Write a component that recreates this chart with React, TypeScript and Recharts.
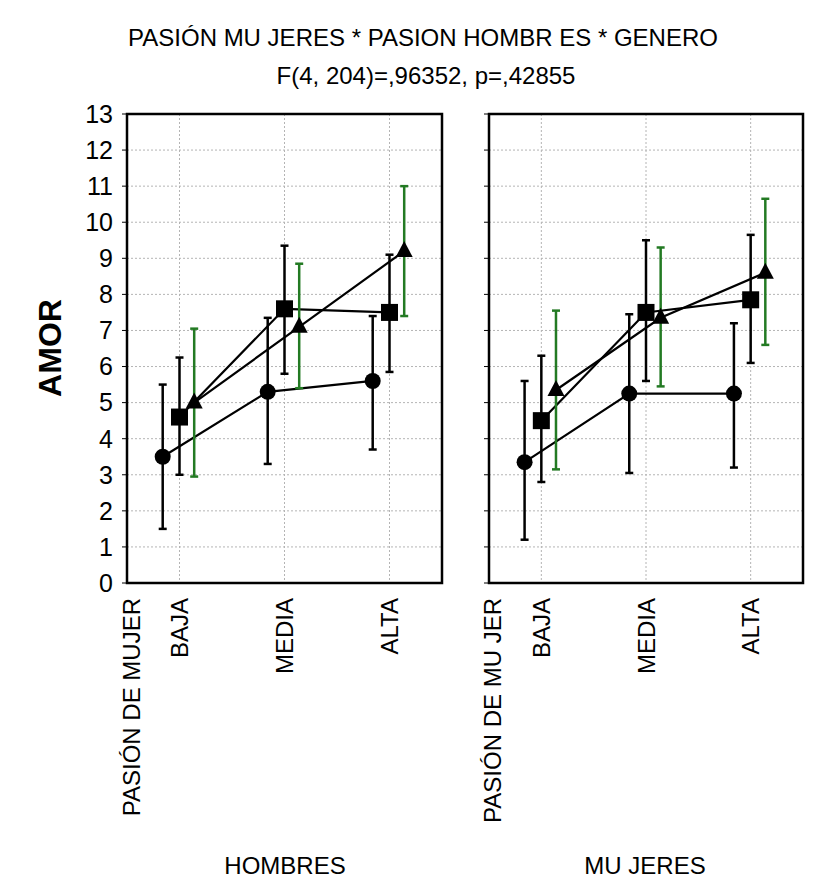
import React from 'react';
import { LineChart, Line, XAxis, YAxis, CartesianGrid, ErrorBar, ReferenceArea } from 'recharts';

const categories = ['BAJA', 'MEDIA', 'ALTA'];
const yTicks = [0, 1, 2, 3, 4, 5, 6, 7, 8, 9, 10, 11, 12, 13];

// HOMBRES panel
const hombresCircle = [3.5, 5.3, 5.6];
const hombresCircleLow = [1.5, 3.3, 3.7];
const hombresCircleHigh = [5.5, 7.35, 7.4];
const hombresSquare = [4.6, 7.6, 7.5];
const hombresSquareLow = [3.0, 5.8, 5.85];
const hombresSquareHigh = [6.25, 9.35, 9.1];
const hombresTriangle = [5.0, 7.1, 9.2];
const hombresTriangleLow = [2.95, 5.4, 7.4];
const hombresTriangleHigh = [7.05, 8.85, 11.0];

// MUJERES panel
const mujeresCircle = [3.35, 5.25, 5.25];
const mujeresCircleLow = [1.2, 3.05, 3.2];
const mujeresCircleHigh = [5.6, 7.45, 7.2];
const mujeresSquare = [4.5, 7.5, 7.85];
const mujeresSquareLow = [2.8, 5.6, 6.1];
const mujeresSquareHigh = [6.3, 9.5, 9.65];
const mujeresTriangle = [5.35, 7.35, 8.6];
const mujeresTriangleLow = [3.15, 5.45, 6.6];
const mujeresTriangleHigh = [7.55, 9.3, 10.65];

const FONT = '"Liberation Sans", Arial, sans-serif';
const GREEN = '#237a23';

// horizontal dodge of each series inside a category
const shift = { circle: -0.16, square: 0, triangle: 0.14 };

const build = (mean: number[], low: number[], high: number[], dx: number) =>
  categories.map((c, i) => ({
    name: c,
    x: i + 0.5 + dx,
    y: mean[i],
    err: [mean[i] - low[i], high[i] - mean[i]],
  }));

const CircleDot = (p: any) => <circle cx={p.cx} cy={p.cy} r={8} fill="#000" />;
const SquareDot = (p: any) => (
  <rect x={p.cx - 8.5} y={p.cy - 8.5} width={17} height={17} fill="#000" />
);
const TriangleDot = (p: any) => (
  <polygon
    points={`${p.cx},${p.cy - 10} ${p.cx - 8.5},${p.cy + 6} ${p.cx + 8.5},${p.cy + 6}`}
    fill="#000"
  />
);

const CategoryTick = (props: any) => {
  const { x, y, payload } = props;
  const label = categories[Math.round(payload.value - 0.5)];
  return (
    <text
      transform={`translate(${x},${y + 7}) rotate(-90)`}
      textAnchor="end"
      dominantBaseline="central"
      fontSize={24}
      fontFamily={FONT}
      fill="#000"
    >
      {label}
    </text>
  );
};

const Panel = ({ circle, square, triangle, showLabels, width, yAxisWidth, marginRight }: any) => (
  <LineChart
    width={width}
    height={884}
    margin={{ top: 114, right: marginRight, bottom: 81, left: 0 }}
  >
    <CartesianGrid stroke="#b4b4b4" strokeDasharray="2 2" />
    <XAxis
      type="number"
      dataKey="x"
      domain={[0, 3]}
      ticks={[0.5, 1.5, 2.5]}
      interval={0}
      height={220}
      axisLine={false}
      tickLine={false}
      tick={<CategoryTick />}
      allowDataOverflow
    />
    <YAxis
      type="number"
      domain={[0, 13]}
      ticks={yTicks}
      interval={0}
      width={yAxisWidth}
      axisLine={false}
      tickLine={{ stroke: '#000' }}
      tickSize={5}
      tickMargin={9}
      tickFormatter={(v: number) => (showLabels ? String(v) : '')}
      tick={{ fontSize: 25, fill: '#000', fontFamily: FONT }}
    />
    <ReferenceArea x1={0} x2={3} y1={0} y2={13} fill="none" fillOpacity={0} stroke="#000" strokeWidth={2.5} />
    <Line data={circle} dataKey="y" stroke="#000" strokeWidth={2.2} dot={CircleDot} activeDot={false} isAnimationActive={false}>
      <ErrorBar dataKey="err" width={4} stroke="#000" strokeWidth={2.5} direction="y" />
    </Line>
    <Line data={square} dataKey="y" stroke="#000" strokeWidth={2.2} dot={SquareDot} activeDot={false} isAnimationActive={false}>
      <ErrorBar dataKey="err" width={4} stroke="#000" strokeWidth={2.5} direction="y" />
    </Line>
    <Line data={triangle} dataKey="y" stroke="#000" strokeWidth={2.2} dot={TriangleDot} activeDot={false} isAnimationActive={false}>
      <ErrorBar dataKey="err" width={4} stroke={GREEN} strokeWidth={2.5} direction="y" />
    </Line>
  </LineChart>
);

export default function App() {
  const left = {
    circle: build(hombresCircle, hombresCircleLow, hombresCircleHigh, shift.circle),
    square: build(hombresSquare, hombresSquareLow, hombresSquareHigh, shift.square),
    triangle: build(hombresTriangle, hombresTriangleLow, hombresTriangleHigh, shift.triangle),
  };
  const right = {
    circle: build(mujeresCircle, mujeresCircleLow, mujeresCircleHigh, shift.circle),
    square: build(mujeresSquare, mujeresSquareLow, mujeresSquareHigh, shift.square),
    triangle: build(mujeresTriangle, mujeresTriangleLow, mujeresTriangleHigh, shift.triangle),
  };
  const txt = { fontFamily: FONT, fill: '#000' };

  return (
    <div style={{ position: 'absolute', left: 0, top: 0, width: 826, height: 884, background: '#fff' }}>
      <div style={{ position: 'absolute', left: 0, top: 0 }}>
        <Panel {...left} showLabels width={460} yAxisWidth={127} marginRight={18} />
      </div>
      <div style={{ position: 'absolute', left: 440, top: 0 }}>
        <Panel {...right} showLabels={false} width={386} yAxisWidth={49} marginRight={23} />
      </div>
      <svg width={826} height={884} style={{ position: 'absolute', left: 0, top: 0, pointerEvents: 'none' }}>
        <text x={423} y={46} textAnchor="middle" fontSize={24} {...txt}>
          PASIÓN MU JERES * PASION HOMBR ES * GENERO
        </text>
        <text x={426} y={84} textAnchor="middle" fontSize={24} {...txt}>
          F(4, 204)=,96352, p=,42855
        </text>
        <text transform="translate(50,348) rotate(-90)" textAnchor="middle" dominantBaseline="central" fontSize={32} fontWeight="bold" {...txt}>
          AMOR
        </text>
        <text transform="translate(131,598) rotate(-90)" textAnchor="end" dominantBaseline="central" fontSize={24} {...txt}>
          PASIÓN DE MUJER
        </text>
        <text transform="translate(492,598) rotate(-90)" textAnchor="end" dominantBaseline="central" fontSize={24} {...txt}>
          PASIÓN DE MU JER
        </text>
        <text x={285} y={874} textAnchor="middle" fontSize={24} {...txt}>
          HOMBRES
        </text>
        <text x={645} y={874} textAnchor="middle" fontSize={24} {...txt}>
          MU JERES
        </text>
      </svg>
    </div>
  );
}
